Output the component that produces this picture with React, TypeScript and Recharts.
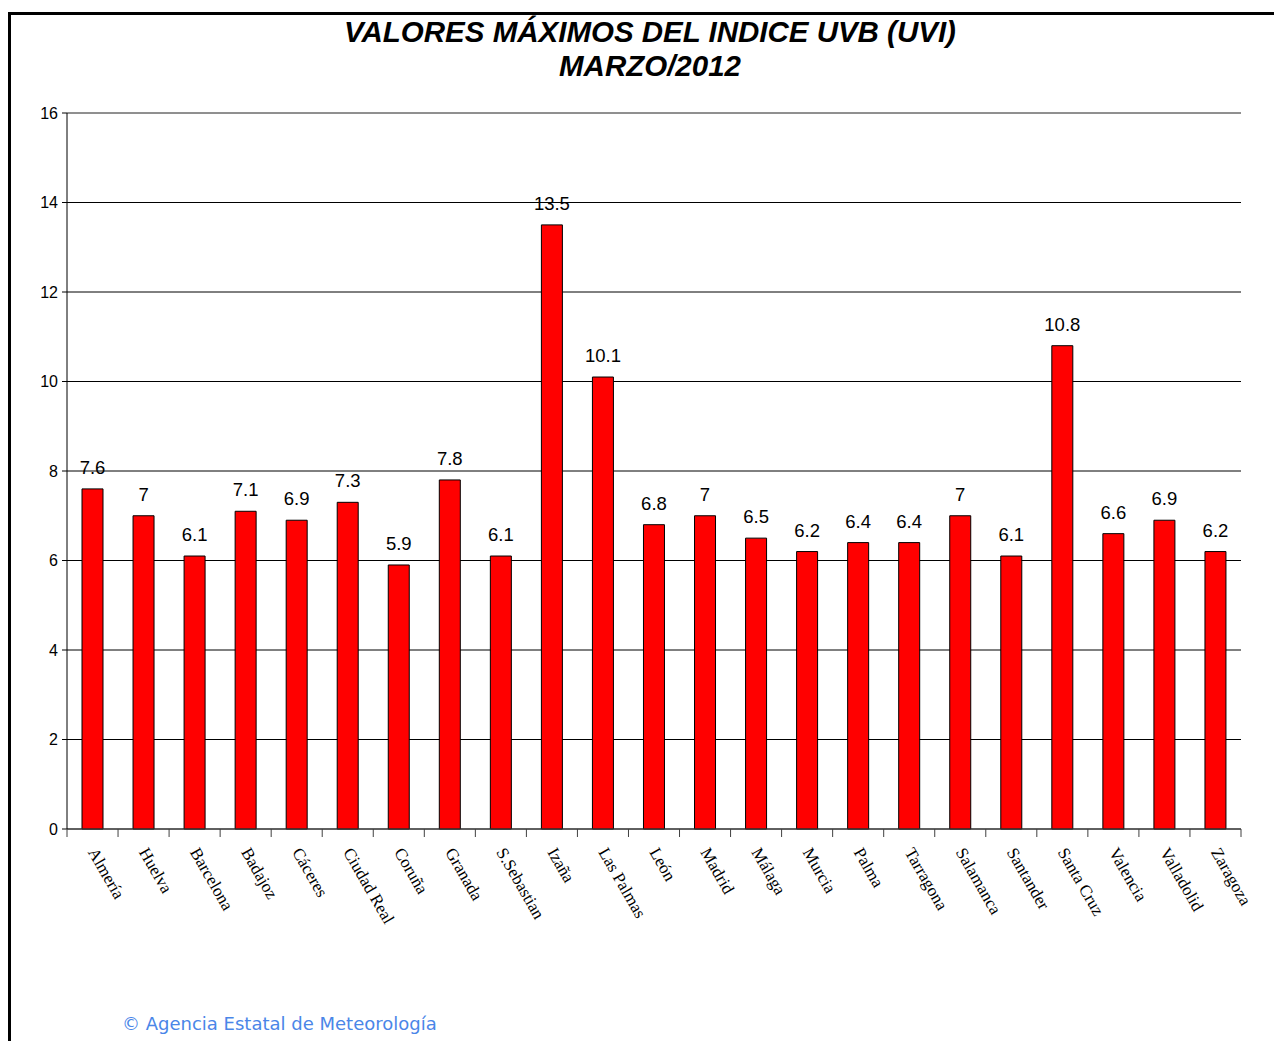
import { BarChart, Bar, XAxis, YAxis, CartesianGrid, LabelList, ReferenceLine } from 'recharts';

const cities = [
  'Almería', 'Huelva', 'Barcelona', 'Badajoz', 'Cáceres', 'Ciudad Real', 'Coruña', 'Granada',
  'S.Sebastian', 'Izaña', 'Las Palmas', 'León', 'Madrid', 'Málaga', 'Murcia', 'Palma',
  'Tarragona', 'Salamanca', 'Santander', 'Santa Cruz', 'Valencia', 'Valladolid', 'Zaragoza',
];
const uvMax = [7.6, 7, 6.1, 7.1, 6.9, 7.3, 5.9, 7.8, 6.1, 13.5, 10.1, 6.8, 7, 6.5, 6.2, 6.4, 6.4, 7, 6.1, 10.8, 6.6, 6.9, 6.2];
const yTicks = [0, 2, 4, 6, 8, 10, 12, 14, 16];

const data = cities.map((name, i) => ({ name, uvi: uvMax[i] }));

const W = 1274;
const H = 1041;
const M = { top: 113, right: 33, bottom: 112, left: 17 };
const Y_W = 50;
const X_H = 100;
const PLOT_W = W - M.left - M.right - Y_W;
const BAND = PLOT_W / cities.length;

const CityTick = (props: any) => {
  const { x, y, payload, index } = props;
  const half = BAND / 2;
  const tx = x - 5;
  const ty = y + 23;
  return (
    <g>
      <line x1={x - half} x2={x - half} y1={y} y2={y + 8} stroke="#404040" />
      {index === cities.length - 1 && (
        <line x1={x + half} x2={x + half} y1={y} y2={y + 8} stroke="#404040" />
      )}
      <text
        x={tx}
        y={ty}
        transform={`rotate(60 ${tx} ${ty})`}
        textAnchor="start"
        fontFamily='"Liberation Serif", "Times New Roman", serif'
        fontSize={17}
        fill="#000"
      >
        {payload.value}
      </text>
    </g>
  );
};

export default function App() {
  return (
    <div style={{ position: 'absolute', left: 0, top: 0, width: W, height: H, background: '#fff', fontFamily: '"Liberation Sans", Arial, sans-serif' }}>
      <div style={{ position: 'absolute', left: 8, top: 12, width: W - 8, height: 3, background: '#000' }} />
      <div style={{ position: 'absolute', left: 8, top: 12, width: 3, height: H - 12, background: '#000' }} />
      <div
        style={{
          position: 'absolute', left: 0, top: 15, width: 1300, textAlign: 'center',
          fontSize: 29.5, lineHeight: '34px', fontWeight: 'bold', fontStyle: 'italic', color: '#000',
        }}
      >
        VALORES MÁXIMOS DEL INDICE UVB (UVI)
        <br />
        MARZO/2012
      </div>
      <div style={{ position: 'absolute', left: 0, top: 0 }}>
        <BarChart width={W} height={H} data={data} margin={M}>
          <CartesianGrid horizontal vertical={false} stroke="#000" strokeWidth={1} />
          <ReferenceLine y={16} stroke="#a0a0a0" />
          <XAxis
            dataKey="name"
            interval={0}
            height={X_H}
            tickLine={false}
            tickSize={0}
            tickMargin={0}
            axisLine={{ stroke: '#404040' }}
            tick={<CityTick />}
          />
          <YAxis
            domain={[0, 16]}
            ticks={yTicks}
            width={Y_W}
            tickSize={5}
            tickMargin={4}
            tickLine={{ stroke: '#000' }}
            axisLine={{ stroke: '#000' }}
            tick={{ fill: '#000', fontSize: 16, fontFamily: '"Liberation Sans", Arial, sans-serif' }}
          />
          <YAxis yAxisId="frame" orientation="right" width={0} tick={false} tickLine={false} axisLine={{ stroke: '#a0a0a0' }} />
          <Bar dataKey="uvi" fill="#ff0000" stroke="#000" strokeWidth={1} barSize={21} isAnimationActive={false}>
            <LabelList dataKey="uvi" position="top" offset={15} fontSize={18.5} fill="#000" fontFamily='"Liberation Sans", Arial, sans-serif' />
          </Bar>
        </BarChart>
      </div>
      <div style={{ position: 'absolute', left: 122, top: 1014, fontFamily: '"DejaVu Sans", sans-serif', fontSize: 18, lineHeight: '20px', color: '#4a86e8' }}>
        © Agencia Estatal de Meteorología
      </div>
    </div>
  );
}
